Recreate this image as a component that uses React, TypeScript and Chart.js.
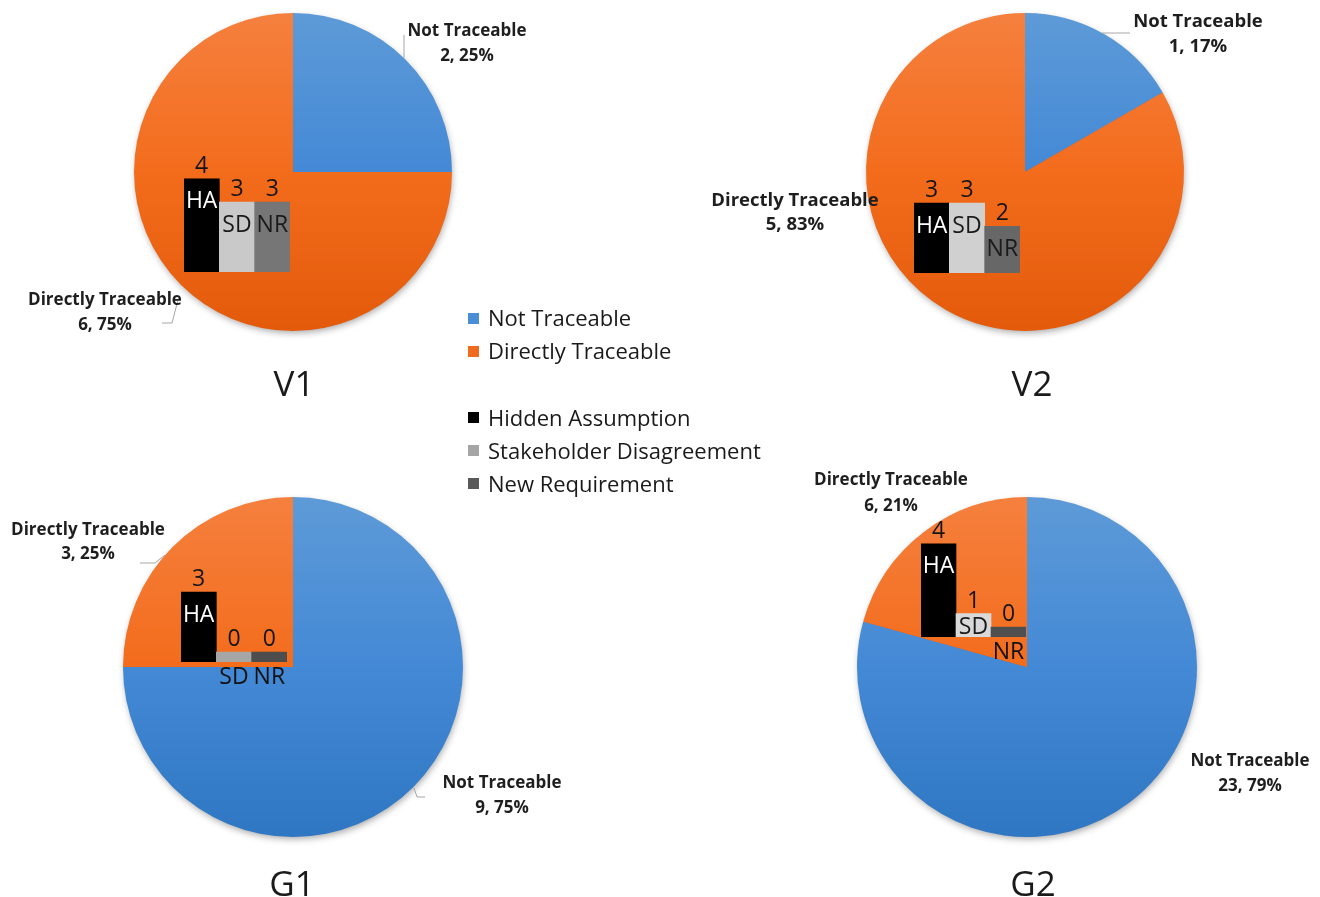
import React, { useEffect, useRef } from "react";
import { Chart, registerables } from "chart.js";

Chart.register(...registerables);

// ---------- data ----------
const pieCategories = ["Not Traceable", "Directly Traceable"];
const barCategories = ["HA", "SD", "NR"];
const barCategoryNames = ["Hidden Assumption", "Stakeholder Disagreement", "New Requirement"];
const chartTitles = ["V1", "V2", "G1", "G2"];

const v1Pie = [2, 6];
const v2Pie = [1, 5];
const g1Pie = [9, 3];
const g2Pie = [23, 6];

const v1Bars = [4, 3, 3];
const v2Bars = [3, 3, 2];
const g1Bars = [3, 0, 0];
const g2Bars = [4, 1, 0];

// ---------- layout / style ----------
const W = 1320;
const H = 897;
const PX_PER_UNIT = 23.3;
const BAR_Y_MAX = 5;

const BLUE_GRAD = ["#5d9ad7", "#4489d6", "#2f77c2"];
const ORANGE_GRAD = ["#f5803e", "#f36c1c", "#e35a0b"];

type LabelPos = { x: number; y1: number; y2: number; leader: number[][] };
type Panel = {
  title: string;
  pie: number[];
  bars: number[];
  cx: number;
  cy: number;
  r: number;
  titleX: number;
  titleY: number;
  labelSize: number;
  labels: LabelPos[];
  barBox: { left: number; right: number; bottom: number };
  barColors: string[];
};

const panels: Panel[] = [
  {
    title: chartTitles[0], pie: v1Pie, bars: v1Bars, cx: 293, cy: 172, r: 159,
    titleX: 294, titleY: 383, labelSize: 17,
    labels: [
      { x: 467, y1: 29.5, y2: 55, leader: [[404, 58], [404, 35]] },
      { x: 105, y1: 298.5, y2: 323.5, leader: [[178, 300], [172, 323], [162, 323]] },
    ],
    barBox: { left: 184, right: 290, bottom: 272 },
    barColors: ["#000000", "#c9c9c9", "#767676"],
  },
  {
    title: chartTitles[1], pie: v2Pie, bars: v2Bars, cx: 1025, cy: 172, r: 159,
    titleX: 1032, titleY: 383, labelSize: 18.5,
    labels: [
      { x: 1198, y1: 20, y2: 45, leader: [[1102, 33], [1130, 33]] },
      { x: 795, y1: 199, y2: 223.5, leader: [] },
    ],
    barBox: { left: 914, right: 1020, bottom: 273 },
    barColors: ["#000000", "#d0d0d0", "#676767"],
  },
  {
    title: chartTitles[2], pie: g1Pie, bars: g1Bars, cx: 293, cy: 667, r: 170,
    titleX: 292, titleY: 883, labelSize: 17,
    labels: [
      { x: 502, y1: 782, y2: 806.5, leader: [[414, 788], [417, 797], [425, 797]] },
      { x: 88, y1: 528.5, y2: 553, leader: [[165, 555], [155, 563], [140, 563]] },
    ],
    barBox: { left: 181, right: 287, bottom: 662 },
    barColors: ["#000000", "#a6a6a6", "#4d4d4d"],
  },
  {
    title: chartTitles[3], pie: g2Pie, bars: g2Bars, cx: 1027, cy: 667, r: 170,
    titleX: 1033, titleY: 883, labelSize: 17,
    labels: [
      { x: 1250, y1: 760, y2: 785, leader: [] },
      { x: 891, y1: 478.5, y2: 505, leader: [] },
    ],
    barBox: { left: 921, right: 1026, bottom: 637 },
    barColors: ["#000000", "#d9d9d9", "#4f4f4f"],
  },
];

const legendRows = [
  { label: pieCategories[0], color: "#4a8fd6", y: 318 },
  { label: pieCategories[1], color: "#ef6c1e", y: 351 },
  { label: barCategoryNames[0], color: "#000000", y: 417.5 },
  { label: barCategoryNames[1], color: "#a5a5a5", y: 450.5 },
  { label: barCategoryNames[2], color: "#595959", y: 483.5 },
];

function makePie(canvas: HTMLCanvasElement, p: Panel) {
  const hx = Math.min(p.cx, W - p.cx);
  const hy = Math.min(p.cy, H - p.cy);
  const total = p.pie.reduce((a, b) => a + b, 0);

  const piePlugin = {
    id: "pieDecor" + p.title,
    beforeDatasetsDraw(chart: any) {
      const arc = chart.getDatasetMeta(0).data[0];
      if (!arc) return;
      const ctx = chart.ctx;
      ctx.save();
      ctx.shadowColor = "rgba(0,0,0,0.35)";
      ctx.shadowBlur = 7;
      ctx.shadowOffsetX = 1;
      ctx.shadowOffsetY = 3;
      ctx.beginPath();
      ctx.arc(arc.x, arc.y, arc.outerRadius - 1, 0, Math.PI * 2);
      ctx.fillStyle = "#d85a10";
      ctx.fill();
      ctx.restore();
    },
    afterDraw(chart: any) {
      const ctx = chart.ctx;
      ctx.save();
      ctx.strokeStyle = "#a6a6a6";
      ctx.lineWidth = 1;
      p.labels.forEach((l) => {
        if (l.leader.length < 2) return;
        ctx.beginPath();
        ctx.moveTo(l.leader[0][0], l.leader[0][1]);
        for (let i = 1; i < l.leader.length; i++) ctx.lineTo(l.leader[i][0], l.leader[i][1]);
        ctx.stroke();
      });
      ctx.fillStyle = "#1e1e1e";
      ctx.textAlign = "center";
      ctx.textBaseline = "alphabetic";
      ctx.font = `bold ${p.labelSize}px "Open Sans"`;
      const capHalf = p.labelSize * 0.357;
      p.labels.forEach((l, i) => {
        const v = chart.data.datasets[0].data[i];
        const pct = Math.round((v / total) * 100);
        ctx.fillText(String(chart.data.labels[i]), l.x, l.y1 + capHalf);
        ctx.fillText(`${v}, ${pct}%`, l.x, l.y2 + capHalf);
      });
      ctx.font = `35px "Open Sans"`;
      ctx.fillStyle = "#1a1a1a";
      ctx.fillText(p.title, p.titleX, p.titleY + 12.5);
      ctx.restore();
    },
  };

  return new Chart(canvas, {
    type: "pie",
    data: {
      labels: pieCategories,
      datasets: [
        {
          data: p.pie,
          radius: p.r,
          borderWidth: 0,
          backgroundColor: (c: any) => {
            const grad = c.dataIndex === 0 ? BLUE_GRAD : ORANGE_GRAD;
            const area = c.chart.chartArea;
            if (!area) return grad[1];
            const cy = (area.top + area.bottom) / 2;
            const g = c.chart.ctx.createLinearGradient(0, cy - p.r, 0, cy + p.r);
            g.addColorStop(0, grad[0]);
            g.addColorStop(0.5, grad[1]);
            g.addColorStop(1, grad[2]);
            return g;
          },
        } as any,
      ],
    },
    options: {
      animation: false,
      responsive: false,
      events: [],
      layout: {
        padding: { left: p.cx - hx, right: W - p.cx - hx, top: p.cy - hy, bottom: H - p.cy - hy },
      },
      plugins: { legend: { display: false }, tooltip: { enabled: false } },
    },
    plugins: [piePlugin],
  });
}

function makeBars(canvas: HTMLCanvasElement, p: Panel) {
  const b = p.barBox;
  const barPlugin = {
    id: "barLabels" + p.title,
    afterDatasetsDraw(chart: any) {
      const ctx = chart.ctx;
      const meta = chart.getDatasetMeta(0);
      const size = 23;
      const cap = size * 0.714;
      ctx.save();
      ctx.font = `${size}px "Open Sans"`;
      ctx.textAlign = "center";
      ctx.textBaseline = "alphabetic";
      meta.data.forEach((el: any, i: number) => {
        const v = chart.data.datasets[0].data[i];
        const top = Math.min(el.y, el.base);
        const bottom = Math.max(el.y, el.base);
        const h = bottom - top;
        ctx.fillStyle = "#151515";
        ctx.fillText(String(v), el.x, top - 6);
        const name = String(chart.data.labels[i]);
        if (v === 0) {
          ctx.fillStyle = "#111111";
          ctx.fillText(name, el.x, bottom + 6 + cap);
        } else {
          const off = Math.min(13, Math.max(3, (h - cap) / 2));
          ctx.fillStyle = i === 0 ? "#ffffff" : "#1a1a1a";
          ctx.fillText(name, el.x, top + off + cap);
        }
      });
      ctx.restore();
    },
  };

  return new Chart(canvas, {
    type: "bar",
    data: {
      labels: barCategories,
      datasets: [
        {
          data: p.bars,
          backgroundColor: p.barColors,
          borderWidth: 0,
          categoryPercentage: 1,
          barPercentage: 1,
          minBarLength: 10,
        },
      ],
    },
    options: {
      animation: false,
      responsive: false,
      events: [],
      layout: {
        padding: {
          left: b.left,
          right: W - b.right,
          top: b.bottom - BAR_Y_MAX * PX_PER_UNIT,
          bottom: H - b.bottom,
        },
      },
      scales: {
        x: { display: false },
        y: { display: false, min: 0, max: BAR_Y_MAX },
      },
      plugins: { legend: { display: false }, tooltip: { enabled: false } },
    },
    plugins: [barPlugin],
  });
}

export default function App() {
  const pieRefs = useRef<(HTMLCanvasElement | null)[]>([]);
  const barRefs = useRef<(HTMLCanvasElement | null)[]>([]);

  useEffect(() => {
    const charts: Chart[] = [];
    panels.forEach((p, i) => {
      const pc = pieRefs.current[i];
      if (pc) charts.push(makePie(pc, p));
    });
    panels.forEach((p, i) => {
      const bc = barRefs.current[i];
      if (bc) charts.push(makeBars(bc, p));
    });
    return () => charts.forEach((c) => c.destroy());
  }, []);

  const canvasStyle: React.CSSProperties = { position: "absolute", left: 0, top: 0 };

  return (
    <div
      style={{
        position: "fixed",
        left: 0,
        top: 0,
        width: W,
        height: H,
        background: "#ffffff",
        overflow: "hidden",
        fontFamily: '"Open Sans", sans-serif',
      }}
    >
      {panels.map((p, i) => (
        <canvas
          key={"pie" + i}
          ref={(el) => { pieRefs.current[i] = el; }}
          width={W}
          height={H}
          style={canvasStyle}
        />
      ))}
      {panels.map((p, i) => (
        <canvas
          key={"bar" + i}
          ref={(el) => { barRefs.current[i] = el; }}
          width={W}
          height={H}
          style={canvasStyle}
        />
      ))}
      {legendRows.map((row, i) => (
        <div key={"lg" + i}>
          <div
            style={{
              position: "absolute",
              left: 468,
              top: row.y - 5.5,
              width: 11,
              height: 11,
              background: row.color,
            }}
          />
          <div
            style={{
              position: "absolute",
              left: 488,
              top: row.y - 15.7,
              height: 30,
              lineHeight: "30px",
              fontSize: 22,
              color: "#1a1a1a",
              whiteSpace: "nowrap",
            }}
          >
            {row.label}
          </div>
        </div>
      ))}
    </div>
  );
}
